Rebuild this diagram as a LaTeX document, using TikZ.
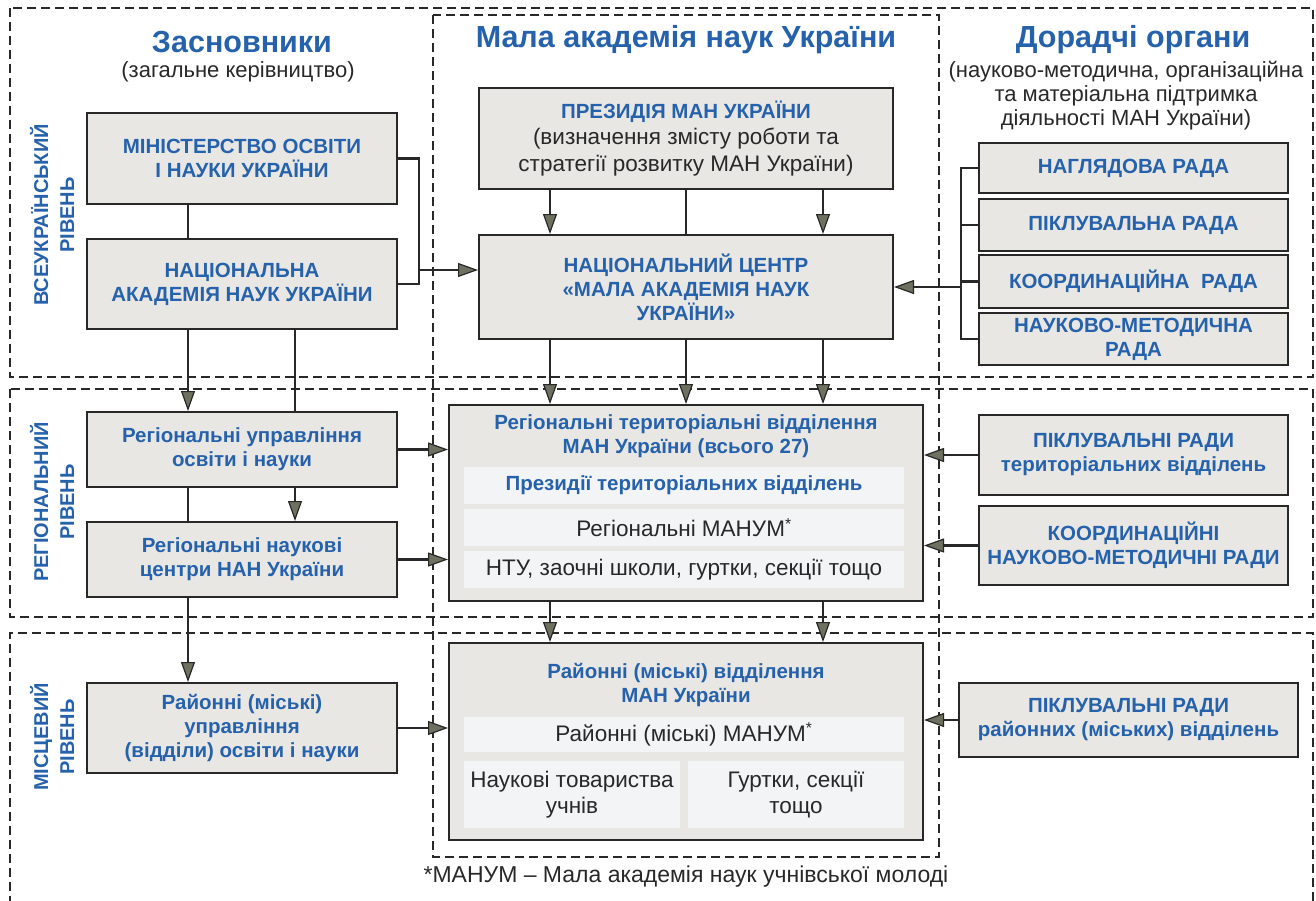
\documentclass[tikz,border=0pt]{standalone}
\usepackage{fontspec}
\setmainfont{Liberation Sans}
\usetikzlibrary{arrows.meta,calc}
\definecolor{manblue}{RGB}{38,98,172}
\definecolor{boxfill}{RGB}{232,231,228}
\definecolor{innerfill}{RGB}{243,244,246}
\definecolor{linec}{RGB}{40,40,40}
\definecolor{darktxt}{RGB}{40,40,40}
\definecolor{arrfill}{RGB}{110,112,96}
\newcommand{\bxf}{\fontsize{20.5pt}{24pt}\selectfont\bfseries}
\newcommand{\grf}{\fontsize{22.5pt}{26.5pt}\selectfont}
\newcommand{\ttlf}{\fontsize{30.5pt}{34pt}\selectfont\bfseries}
\newcommand{\subf}{\fontsize{22pt}{24pt}\selectfont}
\newcommand{\lvlf}{\fontsize{20pt}{26pt}\selectfont\bfseries}
\begin{document}
\begin{tikzpicture}[x=1pt,y=-1pt,
  box/.style={draw=linec,line width=2pt,fill=boxfill,inner sep=0pt,align=center,font=\bxf,text=manblue},
  inner/.style={fill=innerfill,inner sep=0pt,align=center,font=\grf,text=darktxt},
  conn/.style={draw=linec,line width=2.3pt},
  arr/.style={conn,-{Triangle[length=20pt,width=14pt,fill=arrfill,line width=1.2pt]}},
  frame/.style={draw=linec,line width=1.3pt,dash pattern=on 9pt off 5pt},
  lvl/.style={rotate=90,align=center,font=\lvlf,text=manblue},
  ttl/.style={font=\ttlf,text=manblue},
  sub/.style={font=\subf,text=darktxt,align=center}]
\useasboundingbox (0,0) rectangle (1316,900);
% frames
\draw[frame] (10,8) rectangle (1313,377);
\draw[frame] (10,389) rectangle (1313,617);
\draw[frame] (10,905) -- (10,633) -- (1313,633) -- (1313,905);
\draw[frame] (433,15) rectangle (939,857);
% level labels
\node[lvl] (l1) at (52,215) {ВСЕУКРАЇНСЬКИЙ\\РІВЕНЬ};
\node[lvl] (l2) at (52,502) {РЕГІОНАЛЬНИЙ\\РІВЕНЬ};
\node[lvl] (l3) at (52,737) {МІСЦЕВИЙ\\РІВЕНЬ};
% titles
\node[ttl] (t1) at (242,42) {Засновники};
\node[sub] (s1) at (238,72) {(загальне керівництво)};
\node[ttl] (t2) at (686,40) {Мала академія наук України};
\node[ttl] (t3) at (1133,40) {Дорадчі органи};
\node[sub] (s3) at (1126,96) {(науково-методична, організаційна\\та матеріальна підтримка\\діяльності МАН України)};
% left column
\node[box,minimum width=310pt,minimum height=91pt] (mon) at (242,158.5) {МІНІСТЕРСТВО ОСВІТИ\\І НАУКИ УКРАЇНИ};
\node[box,minimum width=310pt,minimum height=90pt] (nan) at (242,284) {НАЦІОНАЛЬНА\\АКАДЕМІЯ НАУК УКРАЇНИ};
\node[box,minimum width=310pt,minimum height=75pt] (rup) at (242,449.5) {Регіональні управління\\освіти і науки};
\node[box,minimum width=310pt,minimum height=75pt] (rnc) at (242,559.5) {Регіональні наукові\\центри НАН України};
\node[box,minimum width=310pt,minimum height=90pt] (rvo) at (242,728) {Районні (міські)\\управління\\(відділи) освіти і науки};
% center column
\node[box,minimum width=414pt,minimum height=101pt,font=\grf,text=darktxt] (prez) at (686,138.5) {{\bxf\textcolor{manblue}{ПРЕЗИДІЯ МАН УКРАЇНИ}}\\(визначення змісту роботи та\\стратегії розвитку МАН України)};
\node[box,minimum width=414pt,minimum height=104pt] (nc) at (686,287) {НАЦІОНАЛЬНИЙ ЦЕНТР\\«МАЛА АКАДЕМІЯ НАУК\\УКРАЇНИ»};
\node[box,minimum width=474pt,minimum height=196pt] (rtv) at (686,503) {};
\node[align=center,font=\bxf,text=manblue] (rtvt) at (686,436.5) {Регіональні територіальні відділення\\МАН України (всього 27)};
\node[inner,minimum width=440pt,minimum height=37pt,font=\bxf,text=manblue] (rtv1) at (684,485.5) {Президії територіальних відділень};
\node[inner,minimum width=440pt,minimum height=37pt] (rtv2) at (684,527.5) {Регіональні МАНУМ\textsuperscript{*}};
\node[inner,minimum width=440pt,minimum height=37pt] (rtv3) at (684,569.5) {НТУ, заочні школи, гуртки, секції тощо};
\node[box,minimum width=474pt,minimum height=197pt] (rmv) at (686,741.5) {};
\node[align=center,font=\bxf,text=manblue] (rmvt) at (686,685) {Районні (міські) відділення\\МАН України};
\node[inner,minimum width=440pt,minimum height=35pt] (rmv1) at (684,734.5) {Районні (міські) МАНУМ\textsuperscript{*}};
\node[inner,minimum width=216pt,minimum height=67pt] (rmv2) at (572,794.5) {Наукові товариства\\учнів};
\node[inner,minimum width=216pt,minimum height=67pt] (rmv3) at (796,794.5) {Гуртки, секції\\тощо};
% right column
\node[box,minimum width=309pt,minimum height=50pt] (nag) at (1133.5,168) {НАГЛЯДОВА РАДА};
\node[box,minimum width=309pt,minimum height=52pt] (pik) at (1133.5,225) {ПІКЛУВАЛЬНА РАДА};
\node[box,minimum width=309pt,minimum height=53pt] (koord) at (1133.5,281.5) {КООРДИНАЦІЙНА\ \ РАДА};
\node[box,minimum width=309pt,minimum height=52pt] (nmr) at (1133.5,339) {НАУКОВО-МЕТОДИЧНА\\РАДА};
\node[box,minimum width=309pt,minimum height=80pt] (pikt) at (1133.5,455) {ПІКЛУВАЛЬНІ РАДИ\\територіальних відділень};
\node[box,minimum width=309pt,minimum height=79pt] (knmr) at (1133.5,545.5) {КООРДИНАЦІЙНІ\\НАУКОВО-МЕТОДИЧНІ РАДИ};
\node[box,minimum width=339pt,minimum height=74pt] (pikr) at (1128.5,720) {ПІКЛУВАЛЬНІ РАДИ\\районних (міських) відділень};
% footnote
\node[font=\fontsize{23pt}{26pt}\selectfont,text=darktxt] (fn) at (686,877) {*МАНУМ – Мала академія наук учнівської молоді};
% connectors left
\draw[conn] ([xshift=-54pt]mon.south) -- ([xshift=-54pt]nan.north);
\draw[conn] (mon.east) -- ++(21,0) |- (nan.east);
\coordinate (bj) at (418,270);
\draw[arr] (bj) -- (bj -| nc.west);
\draw[arr] ([xshift=-54pt]nan.south) -- ([xshift=-54pt]rup.north);
\draw[conn] ([xshift=53pt]nan.south) -- ([xshift=53pt]rup.north);
\draw[conn] ([xshift=-54pt]rup.south) -- ([xshift=-54pt]rnc.north);
\draw[arr] ([xshift=53pt]rup.south) -- ([xshift=53pt]rnc.north);
\draw[arr] ([xshift=-54pt]rnc.south) -- ([xshift=-54pt]rvo.north);
\draw[arr] (rup.east) -- (rup.east -| rtv.west);
\draw[arr] (rnc.east) -- (rnc.east -| rtv.west);
\draw[arr] (rvo.east) -- (rvo.east -| rmv.west);
% connectors center
\draw[arr] ([xshift=-136pt]prez.south) -- ([xshift=-136pt]nc.north);
\draw[conn] (prez.south) -- (nc.north);
\draw[arr] ([xshift=137pt]prez.south) -- ([xshift=137pt]nc.north);
\draw[arr] ([xshift=-136pt]nc.south) -- ([xshift=-136pt]rtv.north);
\draw[arr] (nc.south) -- (rtv.north);
\draw[arr] ([xshift=137pt]nc.south) -- ([xshift=137pt]rtv.north);
\draw[arr] ([xshift=-136pt]rtv.south) -- ([xshift=-136pt]rmv.north);
\draw[arr] ([xshift=137pt]rtv.south) -- ([xshift=137pt]rmv.north);
% connectors right
\draw[conn] (nag.west) -- ++(-17,0) |- (nmr.west);
\draw[conn,line width=1.5pt] (pik.west) -- ++(-17,0);
\draw[conn] (koord.west) -- ++(-17,0);
\coordinate (rb) at (962,287);
\draw[arr] (rb) -- (rb -| nc.east);
\draw[arr] (pikt.west) -- (pikt.west -| rtv.east);
\draw[arr] (knmr.west) -- (knmr.west -| rtv.east);
\draw[arr] (pikr.west) -- (pikr.west -| rmv.east);
\end{tikzpicture}
\end{document}
